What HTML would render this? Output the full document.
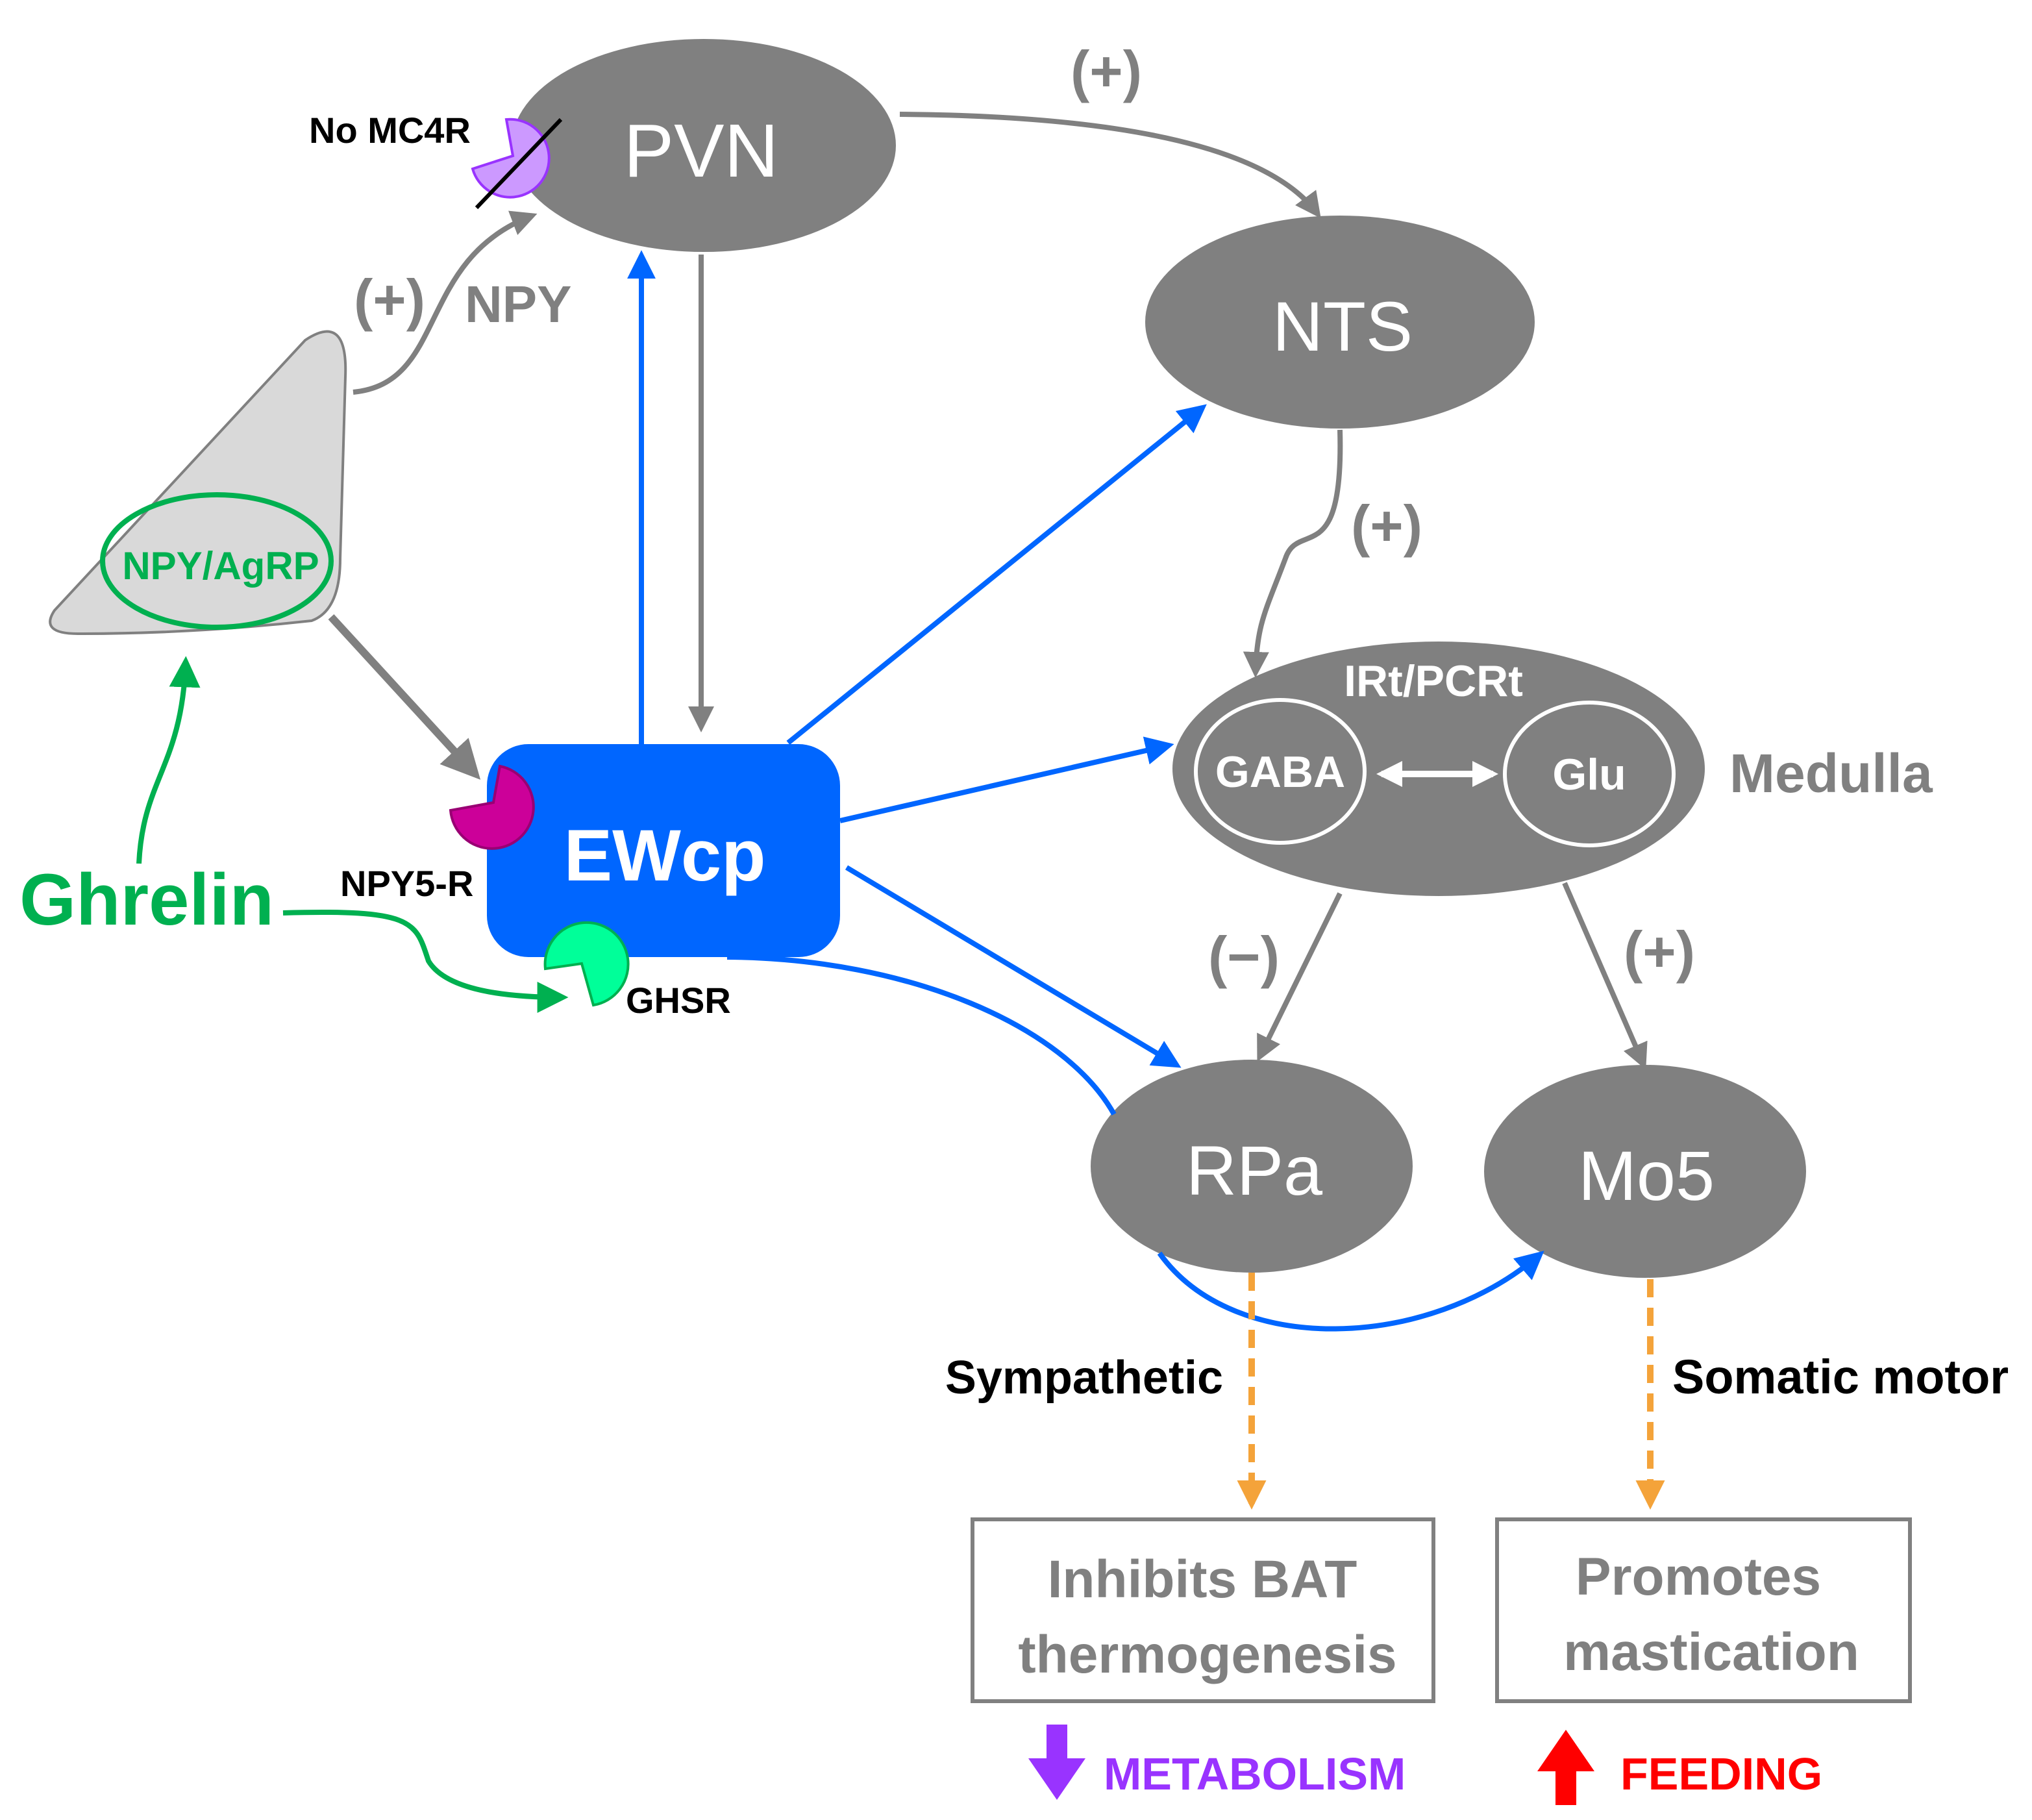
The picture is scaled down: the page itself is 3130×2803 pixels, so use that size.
<!DOCTYPE html>
<html><head><meta charset="utf-8"><style>html,body{margin:0;padding:0;background:#fff}svg{display:block}</style></head><body>
<svg width="3130" height="2803" viewBox="0 0 1565 1401.5" xmlns="http://www.w3.org/2000/svg" font-family="'Liberation Sans', 'DejaVu Sans', sans-serif">
<defs>
<marker id="ag" viewBox="0 0 10 10" refX="8" refY="5" markerWidth="5" markerHeight="5" orient="auto"><path d="M0,0L10,5L0,10z" fill="#808080"/></marker>
<marker id="ab" viewBox="0 0 10 10" refX="8" refY="5" markerWidth="5.5" markerHeight="5.5" orient="auto"><path d="M0,0L10,5L0,10z" fill="#0066ff"/></marker>
<marker id="agr" viewBox="0 0 10 10" refX="8" refY="5" markerWidth="6" markerHeight="6" orient="auto"><path d="M0,0L10,5L0,10z" fill="#00b050"/></marker>
<marker id="ao" viewBox="0 0 10 10" refX="8" refY="5" markerWidth="4.5" markerHeight="4.5" orient="auto"><path d="M0,0L10,5L0,10z" fill="#f4a33a"/></marker>
<marker id="aw" viewBox="0 0 10 10" refX="8" refY="5" markerWidth="4" markerHeight="4" orient="auto-start-reverse"><path d="M0,0L10,5L0,10z" fill="#fff"/></marker>
</defs>

<path d="M42,470 Q30,488 60,488 Q150,488 240,478 Q262,470 262,430 L266,290 Q268,240 235,262 Z" fill="#d9d9d9" stroke="#808080" stroke-width="2"/>
<ellipse cx="167" cy="432" rx="88" ry="51" fill="none" stroke="#00b050" stroke-width="4"/>
<text x="170" y="446" font-size="30" font-weight="bold" fill="#00b050" text-anchor="middle">NPY/AgRP</text>

<ellipse cx="542" cy="112" rx="148" ry="82" fill="#808080"/>
<text x="540" y="136" font-size="58" fill="#fff" text-anchor="middle">PVN</text>
<ellipse cx="1032" cy="248" rx="150" ry="82" fill="#808080"/>
<text x="1034" y="270" font-size="54" fill="#fff" text-anchor="middle">NTS</text>
<ellipse cx="1108" cy="592" rx="205" ry="98" fill="#808080"/>
<text x="1104" y="536" font-size="34" font-weight="bold" fill="#fff" text-anchor="middle">IRt/PCRt</text>
<ellipse cx="986" cy="594" rx="65" ry="55" fill="none" stroke="#fff" stroke-width="3"/>
<text x="986" y="606" font-size="34" font-weight="bold" fill="#fff" text-anchor="middle">GABA</text>
<ellipse cx="1224" cy="596" rx="65" ry="55" fill="none" stroke="#fff" stroke-width="3"/>
<text x="1224" y="608" font-size="34" font-weight="bold" fill="#fff" text-anchor="middle">Glu</text>
<line x1="1064" y1="596" x2="1150" y2="596" stroke="#fff" stroke-width="5" marker-start="url(#aw)" marker-end="url(#aw)"/>
<text x="1332" y="610" font-size="42" font-weight="bold" fill="#808080">Medulla</text>
<ellipse cx="964" cy="898" rx="124" ry="82" fill="#808080"/>
<text x="966" y="920" font-size="54" fill="#fff" text-anchor="middle">RPa</text>
<ellipse cx="1267" cy="902" rx="124" ry="82" fill="#808080"/>
<text x="1268" y="924" font-size="54" fill="#fff" text-anchor="middle">Mo5</text>

<rect x="375" y="573" width="272" height="164" rx="32" fill="#0066ff"/>
<text x="512" y="678" font-size="56" font-weight="bold" fill="#fff" text-anchor="middle">EWcp</text>

<path d="M395,120 L390,92 A30,30 0 1,1 364,130 Z" fill="#cc99ff" stroke="#9933ff" stroke-width="2"/>
<line x1="367" y1="160" x2="432" y2="92" stroke="#000" stroke-width="3"/>
<path d="M380,618 L385,590 A32,32 0 1,1 347,624 Z" fill="#cc0099" stroke="#990073" stroke-width="2"/>
<path d="M448,742 L420,746 A32,32 0 1,1 457,774 Z" fill="#00ff99" stroke="#00b050" stroke-width="2"/>

<path d="M693,88 Q960,90 1015,165" fill="none" stroke="#808080" stroke-width="4" marker-end="url(#ag)"/>
<line x1="540" y1="196" x2="540" y2="560" stroke="#808080" stroke-width="4" marker-end="url(#ag)"/>
<line x1="494" y1="573" x2="494" y2="197" stroke="#0066ff" stroke-width="4" marker-end="url(#ab)"/>
<line x1="607" y1="572" x2="926" y2="314" stroke="#0066ff" stroke-width="4" marker-end="url(#ab)"/>
<line x1="647" y1="632" x2="900" y2="574" stroke="#0066ff" stroke-width="4" marker-end="url(#ab)"/>
<line x1="652" y1="668" x2="906" y2="820" stroke="#0066ff" stroke-width="4" marker-end="url(#ab)"/>
<path d="M560,737 C700,738 820,790 858,858" fill="none" stroke="#0066ff" stroke-width="4"/>
<path d="M893,965 C950,1045 1100,1040 1186,966" fill="none" stroke="#0066ff" stroke-width="4" marker-end="url(#ab)"/>
<path d="M1032,331 C1035,440 1000,400 990,430 C975,470 968,480 967,518" fill="none" stroke="#808080" stroke-width="4" marker-end="url(#ag)"/>
<line x1="1032" y1="688" x2="970" y2="814" stroke="#808080" stroke-width="4" marker-end="url(#ag)"/>
<line x1="1205" y1="680" x2="1266" y2="820" stroke="#808080" stroke-width="4" marker-end="url(#ag)"/>
<line x1="255" y1="475" x2="366" y2="596" stroke="#808080" stroke-width="6" marker-end="url(#ag)"/>
<path d="M272,302 C345,295 320,200 410,166" fill="none" stroke="#808080" stroke-width="4" marker-end="url(#ag)"/>
<path d="M107,665 C110,600 140,590 143,510" fill="none" stroke="#00b050" stroke-width="4" marker-end="url(#agr)"/>
<path d="M218,703 C320,700 320,710 330,740 C345,765 400,768 433,768" fill="none" stroke="#00b050" stroke-width="4" marker-end="url(#agr)"/>
<line x1="964" y1="980" x2="964" y2="1158" stroke="#f4a33a" stroke-width="5" stroke-dasharray="14,8" marker-end="url(#ao)"/>
<line x1="1271" y1="985" x2="1271" y2="1158" stroke="#f4a33a" stroke-width="5" stroke-dasharray="14,8" marker-end="url(#ao)"/>

<text x="852" y="70" font-size="44" font-weight="bold" fill="#808080" text-anchor="middle">(+)</text>
<text x="300" y="246" font-size="44" font-weight="bold" fill="#808080" text-anchor="middle">(+)</text>
<text x="358" y="248" font-size="40" font-weight="bold" fill="#808080">NPY</text>
<text x="1068" y="420" font-size="44" font-weight="bold" fill="#808080" text-anchor="middle">(+)</text>
<text x="958" y="752" font-size="44" font-weight="bold" fill="#808080" text-anchor="middle">(−)</text>
<text x="1278" y="748" font-size="44" font-weight="bold" fill="#808080" text-anchor="middle">(+)</text>
<text x="238" y="110" font-size="28" font-weight="bold" fill="#000">No MC4R</text>
<text x="262" y="690" font-size="28" font-weight="bold" fill="#000">NPY5-R</text>
<text x="482" y="780" font-size="28" font-weight="bold" fill="#000">GHSR</text>
<text x="15" y="712" font-size="56" font-weight="bold" fill="#00b050">Ghrelin</text>
<text x="942" y="1073" font-size="36" font-weight="bold" fill="#000" text-anchor="end">Sympathetic</text>
<text x="1288" y="1073" font-size="37" font-weight="bold" fill="#000">Somatic motor</text>

<rect x="749" y="1170" width="355" height="140" fill="#fff" stroke="#808080" stroke-width="3"/>
<text x="926" y="1230" font-size="41" font-weight="bold" fill="#808080" text-anchor="middle">Inhibits BAT</text>
<text x="930" y="1288" font-size="41" font-weight="bold" fill="#808080" text-anchor="middle">thermogenesis</text>
<rect x="1153" y="1170" width="318" height="140" fill="#fff" stroke="#808080" stroke-width="3"/>
<text x="1308" y="1228" font-size="41" font-weight="bold" fill="#808080" text-anchor="middle">Promotes</text>
<text x="1318" y="1286" font-size="41" font-weight="bold" fill="#808080" text-anchor="middle">mastication</text>

<path d="M806,1328 h16 v26 h14 l-22,32 l-22,-32 h14 z" fill="#9933ff"/>
<text x="850" y="1378" font-size="35" font-weight="bold" fill="#9933ff">METABOLISM</text>
<path d="M1212,1390 h-14 v-26 h-14 l22,-32 l22,32 h-14 v26 z" fill="#ff0000"/>
<text x="1248" y="1378" font-size="35" font-weight="bold" fill="#ff0000">FEEDING</text>
</svg>
</body></html>
